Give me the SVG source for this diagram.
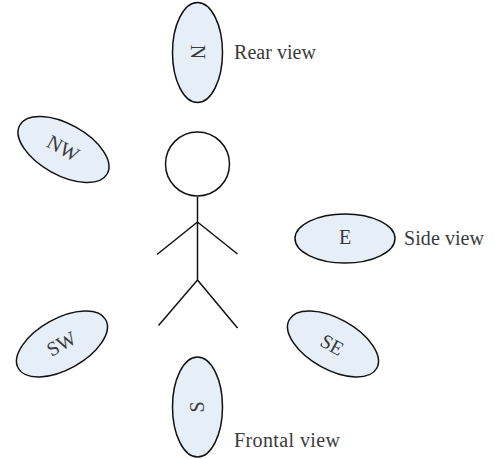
<svg xmlns="http://www.w3.org/2000/svg" width="498" height="459" viewBox="0 0 498 459">
<style>
.v{fill:#e6eef8;stroke:#111;stroke-width:1.5}
.l{fill:none;stroke:#111;stroke-width:1.5}
text{font-family:"Liberation Serif",serif;font-size:20px;fill:#3a3a3a}
.c{text-anchor:middle}
</style>
<g id="connectors">
<path class="l" d="M197.500 197V280M197.500 222L157 254.500M197.500 222L237.500 254M197.500 280L158.500 325.500M197.500 280L237.500 328"/>
</g>
<g id="head"><circle class="l" cx="197.500" cy="164" r="32"/></g>
<g id="N"><ellipse class="v" cx="197.500" cy="52.500" rx="25" ry="50"/><text class="c" transform="translate(197.500 52) rotate(90)" y="6.500">N</text></g>
<g id="S"><ellipse class="v" cx="197.500" cy="407" rx="25" ry="50"/><text class="c" transform="translate(197.500 407) rotate(-90)" y="6.500">S</text></g>
<g id="E"><ellipse class="v" cx="345" cy="238.500" rx="50" ry="24.500"/><text class="c" x="345" y="244">E</text></g>
<g id="NW"><ellipse class="v" cx="63.500" cy="149.500" rx="50" ry="25.500" transform="rotate(29 63.500 149.500)"/><text class="c" transform="translate(63 148.500) rotate(29)" y="6.500">NW</text></g>
<g id="SW"><ellipse class="v" cx="62" cy="344" rx="50" ry="25.500" transform="rotate(-29 62 344)"/><text class="c" transform="translate(61.500 344) rotate(-29)" y="6.500">SW</text></g>
<g id="SE"><ellipse class="v" cx="333" cy="344" rx="50" ry="25.500" transform="rotate(29 333 344)"/><text class="c" transform="translate(332 345) rotate(29)" y="6.500">SE</text></g>
<text x="234" y="59" textLength="82">Rear view</text>
<text x="404" y="245" textLength="80">Side view</text>
<text x="234" y="447" textLength="106">Frontal view</text>
</svg>
